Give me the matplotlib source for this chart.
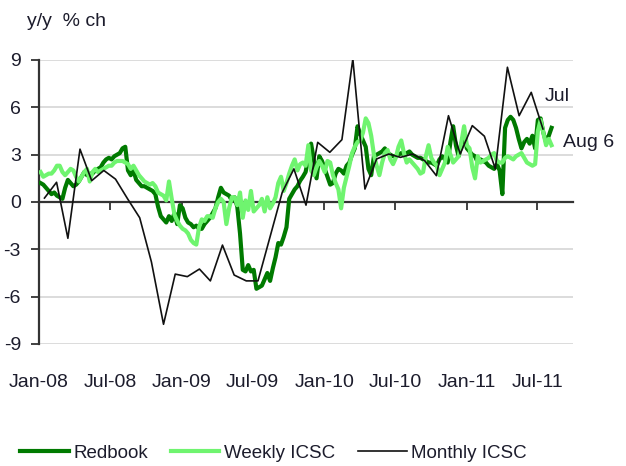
# Weekly and monthly retail sales indicators, y/y % change
import pandas as pd
import matplotlib.pyplot as plt

plt.rcParams['font.family'] = ['Liberation Sans Narrow', 'Liberation Sans', 'DejaVu Sans']

# weekly data, week ending Saturday, Jan 5 2008 .. Aug 6 2011
weeks = pd.date_range('2008-01-05', '2011-08-06', freq='W-SAT')

redbook = [
    1.2, 1.1, 0.9, 0.7, 0.5, 0.6, 0.4, 0.3, 0.2, 0.9,
    1.4, 1.2, 1.0, 1.1, 1.3, 1.6, 1.9, 1.7, 1.8, 1.8,
    2.0, 2.1, 2.2, 2.5, 2.7, 2.8, 2.7, 2.9, 3.0, 3.1,
    3.4, 3.5, 2.0, 1.7, 2.0, 1.4, 1.2, 1.0, 1.0, 0.9,
    0.8, 0.7, 0.5, -0.3, -0.9, -1.1, -1.3, -0.9, -1.2, -0.7,
    -1.4, -0.2, -0.4, -1.0, -1.3, -1.4, -1.6, -1.5, -1.7, -1.7,
    -1.4, -1.2, -1.0, -0.7, -0.4, 0.3, 0.9, 0.6, 0.5, 0.4,
    0.1, 0.3, -0.3, -2.0, -4.3, -4.4, -4.0, -4.4, -4.3, -5.5,
    -5.4, -5.3, -4.9, -4.5, -5.0, -4.2, -3.5, -2.6, -2.7, -2.2,
    -1.6, 0.2, 0.5, 0.8, 1.0, 1.35, 1.6, 1.9, 2.8, 3.7,
    2.7, 1.5, 2.9, 2.6, 2.1, 1.6, 1.1, 1.2, 1.8, 2.1,
    2.0, 1.8, 2.3, 2.5, 3.0, 3.4, 4.8, 4.3, 3.9, 3.5,
    2.1, 1.7, 2.9, 3.0, 3.1, 3.2, 3.4, 3.1, 3.0, 2.9,
    2.9, 3.0, 3.1, 3.0, 3.1, 3.2, 3.0, 2.9, 2.8, 2.8,
    2.7, 2.6, 2.5, 2.5, 2.4, 2.3, 2.7, 2.9, 2.7, 2.5,
    3.8, 4.8, 3.6, 2.9, 3.6, 4.4, 3.4, 3.2, 3.0, 2.9,
    2.5, 2.7, 2.6, 2.5, 2.3, 2.2, 2.1, 2.4, 2.0, 0.5,
    4.7, 5.2, 5.4, 5.2, 4.7, 4.0, 3.4, 3.8, 4.0, 3.7,
    4.2, 3.4, 5.2, 5.3, 4.4, 3.8, 4.2, 4.7,
]

weekly_icsc = [
    1.9, 1.6, 1.7, 1.8, 1.8, 2.0, 2.3, 2.3, 1.9, 1.7,
    1.9, 2.1, 2.0, 1.6, 1.3, 1.6, 1.9, 2.1, 1.3, 1.9,
    2.1, 1.9, 2.0, 2.1, 2.2, 2.3, 2.3, 2.5, 2.6, 2.6,
    2.6, 2.5, 2.4, 2.1, 2.3, 2.0, 1.7, 1.5, 1.3, 1.2,
    1.1, 1.2, 1.0, 0.6, 0.5, 0.4, 0.1, 1.3, 0.2, -0.8,
    -1.2, -1.5, -1.7, -1.8, -2.0, -2.4, -2.6, -2.7, -1.6, -1.1,
    -1.2, -0.9, -0.9, -1.0, -0.4, 0.0, 0.2, 0.0, -1.4, -0.4,
    0.3, 0.3, -0.2, 0.6, -1.0, 0.1, -0.5, 0.7, -0.6, -0.4,
    -0.2, 0.2, -0.6, 0.3, -0.4, -0.1, 0.3, 1.2, 1.6, 0.7,
    1.2, 1.8, 2.3, 2.7, 2.0, 2.4, 2.5, 2.3, 3.6, 2.0,
    1.7, 2.2, 2.6, 2.3, 1.9, 2.6, 2.5, 1.7, 1.2, 0.8,
    -0.4, 0.9, 1.6, 2.3, 3.1, 3.5, 3.8, 3.9, 4.4, 5.3,
    5.0, 4.2, 3.0, 2.3, 1.7, 2.5, 3.1, 3.3, 2.7, 2.4,
    2.8, 3.5, 3.9, 3.1, 2.5, 2.7, 2.5, 2.3, 2.1, 1.8,
    1.9, 2.9, 3.6, 2.8, 2.5, 2.3, 1.7, 2.1, 2.5, 3.5,
    3.0, 2.5, 2.7, 2.9, 3.8, 4.8, 3.6, 3.4, 2.2, 1.5,
    2.9, 2.5, 2.6, 2.7, 2.8, 3.0, 3.1, 2.6, 2.5, 2.5,
    2.8, 2.9, 2.8, 2.7, 2.9, 3.0, 3.1, 2.8, 2.5, 2.4,
    2.3, 2.4, 4.5, 5.2, 4.4, 3.6, 4.0, 3.6,
]

# monthly data, Jan 2008 .. Jul 2011 (plotted mid-month)
months = pd.date_range('2008-01-01', '2011-07-01', freq='MS') + pd.Timedelta(days=14)
monthly_icsc = [
    0.25, 1.25, -2.3, 3.35, 1.35, 2.0, 1.45, 0.2, -1.0, -3.8,
    -7.75, -4.57, -4.73, -4.25, -5.0, -2.73, -4.63, -5.0, -5.0, -2.2,
    0.6, 2.1, -0.2, 3.78, 3.15, 3.95, 9.07, 0.82, 2.73, 3.04,
    2.83, 3.04, 2.62, 1.67, 5.47, 3.04, 4.84, 4.17, 2.1, 8.54,
    5.47, 6.95, 4.63,
]

yticks = [9, 6, 3, 0, -3, -6, -9]
xtick_dates = pd.date_range('2008-01-01', '2011-07-01', freq='6MS')
xtick_labels = ['Jan-08', 'Jul-08', 'Jan-09', 'Jul-09', 'Jan-10', 'Jul-10', 'Jan-11', 'Jul-11']

txt = '#1c1c2c'
fs = 14

fig = plt.figure(figsize=(6.26, 4.66), dpi=100)
ax = fig.add_axes([39 / 626, 1 - 344 / 466, (573 - 39) / 626, (344 - 60) / 466])

ax.plot(weeks, redbook, color='#007a00', lw=3.0, zorder=3, label='Redbook')
ax.plot(weeks, weekly_icsc, color='#6ff46f', lw=3.0, zorder=4, label='Weekly ICSC')
ax.plot(months, monthly_icsc, color='#111111', lw=1.2, zorder=5, label='Monthly ICSC')

ax.set_ylim(-9, 9)
ax.set_yticks(yticks)
ax.set_yticklabels([str(v) for v in yticks], fontsize=fs, color=txt)
ax.set_xlim(pd.Timestamp('2008-01-01'), pd.Timestamp('2011-09-30'))
ax.set_xticks(xtick_dates)
ax.set_xticklabels([])
ax.grid(axis='y', color='#d9d9d9', lw=1.3, zorder=0)

for s in ['top', 'right']:
    ax.spines[s].set_visible(False)
ax.spines['bottom'].set_position(('data', 0))
ax.spines['bottom'].set_linewidth(1.6)
ax.spines['bottom'].set_color('#333333')
ax.spines['bottom'].set_zorder(2)
ax.spines['left'].set_linewidth(1.6)
ax.spines['left'].set_color('#333333')
ax.tick_params(axis='y', direction='out', length=6, width=1.3, color='#333333', pad=7)
ax.tick_params(axis='x', direction='out', length=6, width=1.3, color='#333333')

# date labels sit below the plot area, not on the zero line
for d, lab in zip(xtick_dates, xtick_labels):
    ax.text(d, -0.137, lab, transform=ax.get_xaxis_transform(), ha='center', va='center',
            fontsize=fs, color=txt, clip_on=False)

fig.text(27 / 626, 1 - 22 / 466, 'y/y  % ch', fontsize=fs, color=txt, va='center', ha='left')
ax.text(pd.Timestamp('2011-07-20'), 6.7, 'Jul', fontsize=fs, color=txt, va='center', ha='left', clip_on=False)
ax.text(pd.Timestamp('2011-09-05'), 3.8, 'Aug 6', fontsize=fs, color=txt, va='center', ha='left', clip_on=False)

fig.legend(loc='center left', bbox_to_anchor=(20 / 626, 1 - 453 / 466), ncol=3, frameon=False,
           fontsize=13.5, handlelength=2.6, handletextpad=0.25, columnspacing=1.2,
           borderpad=0, borderaxespad=0, labelcolor=txt)

fig.savefig('out.png', dpi=100)
